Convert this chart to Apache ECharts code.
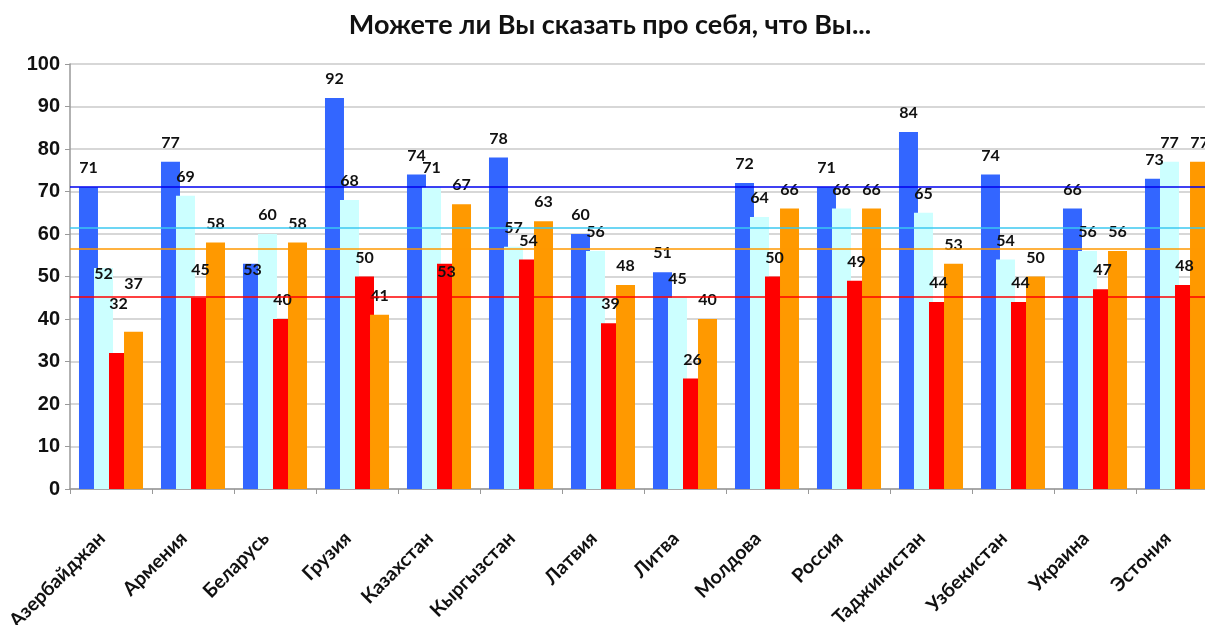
<!DOCTYPE html>
<html><head><meta charset="utf-8">
<script src="https://cdn.jsdelivr.net/npm/echarts@6/dist/echarts.min.js"></script>
<style>html,body{margin:0;padding:0;background:#fff;overflow:hidden;width:1205px;height:625px}#c{width:1218px;height:625px}</style>
</head><body><div id="c"></div>
<script>
const categories = ['Азербайджан','Армения','Беларусь','Грузия','Казахстан','Кыргызстан','Латвия','Литва','Молдова','Россия','Таджикистан','Узбекистан','Украина','Эстония'];
const seriesA = [71,77,53,92,74,78,60,51,72,71,84,74,66,73];
const seriesB = [52,69,60,68,71,57,56,45,64,66,65,54,56,77];
const seriesC = [32,45,40,50,53,54,39,26,50,49,44,44,47,48];
const seriesD = [37,58,58,41,67,63,48,40,66,66,53,50,56,77];
const refLines = [71.2, 61.4, 45.2, 56.6];
const yTicks = [0,10,20,30,40,50,60,70,80,90,100];

const barColors = ['#3366FF','#CCFFFF','#FF0000','#FF9900'];
const lineColors = ['#0000EE','#3CC8F0','#FF0000','#FF9900'];
// manual label nudges (series index, category index, dy) mimicking the reference's placed labels
const labelNudges = [[1,0,25],[2,0,-30],[3,0,-29],[2,1,-9],[0,2,25],[2,4,27]];

const FONT = 'Lato, "Open Sans", sans-serif';
const all = [seriesA, seriesB, seriesC, seriesD];
const chart = echarts.init(document.getElementById('c'));
const series = all.map((vals, si) => ({
  type: 'bar',
  barWidth: 19,
  barGap: '-21%',
  itemStyle: { color: barColors[si] },
  label: { show: true, position: 'top', distance: 11, color: '#111', fontFamily: FONT, fontWeight: 'bold', fontSize: 16 },
  data: vals.map((v, ci) => {
    const n = labelNudges.find(x => x[0] === si && x[1] === ci);
    return n ? { value: v, label: { offset: [0, n[2]] } } : v;
  }),
  markLine: {
    silent: true, symbol: 'none', z: 10,
    label: { show: false },
    lineStyle: { color: lineColors[si], width: 1.6, type: 'solid' },
    data: [{ yAxis: refLines[si] }]
  }
}));

chart.setOption({
  animation: false,
  title: { text: 'Можете ли Вы сказать про себя, что Вы...', left: 605, top: 7, textAlign: 'center',
    textStyle: { fontFamily: FONT, fontWeight: 'bold', fontSize: 27, color: '#111' } },
  grid: { left: 70, top: 64, bottom: 136, right: 0, outerBoundsMode: 'none', containLabel: false },
  xAxis: {
    type: 'category', data: categories,
    axisLine: { lineStyle: { color: '#999', width: 1.5 } },
    axisTick: { show: true, length: 5, lineStyle: { color: '#999' } },
    axisLabel: { rotate: 45, margin: 37, interval: 0, padding: [0, 13, 0, 0], color: '#111', fontFamily: FONT, fontWeight: 'bold', fontSize: 19.5 }
  },
  yAxis: {
    type: 'value', min: 0, max: 100, interval: 10,
    axisLine: { show: true, lineStyle: { color: '#999', width: 1.5 } },
    axisTick: { show: true, length: 5, lineStyle: { color: '#999' } },
    splitLine: { lineStyle: { color: '#cacaca', width: 1.5 } },
    axisLabel: { margin: 10, color: '#111', fontFamily: 'Liberation Sans', fontWeight: 'bold', fontSize: 20,
      formatter: v => yTicks.includes(v) ? String(v) : '' }
  },
  series
});
</script></body></html>
